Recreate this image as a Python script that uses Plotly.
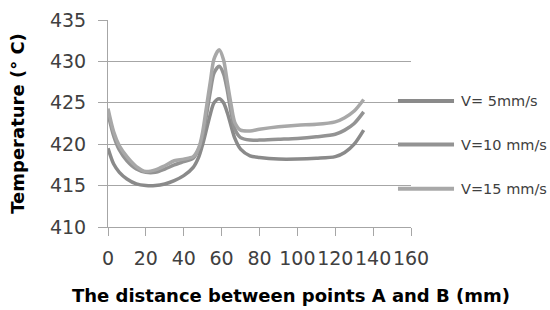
import plotly.graph_objects as go

# Distance between points A and B (mm)
distance = [0, 3, 6, 10, 15, 20, 25, 30, 35, 40, 45, 48, 50, 52, 54, 56, 58.7,
            61, 63, 65, 67, 70, 75, 80, 90, 100, 110, 120, 125, 130, 135]

temp_v5 = [419.5, 417.6, 416.6, 415.8, 415.2, 415.0, 415.0, 415.2, 415.6, 416.2,
           417.2, 418.5, 420.0, 421.8, 423.6, 425.0, 425.5, 425.0, 423.8, 422.2,
           420.7, 419.4, 418.6, 418.4, 418.2, 418.2, 418.3, 418.5, 419.0, 420.0, 421.7]

temp_v10 = [423.7, 421.0, 419.3, 418.0, 417.0, 416.6, 416.6, 417.0, 417.5, 417.9,
            418.3, 419.5, 421.0, 423.5, 426.3, 428.6, 429.4, 428.5, 426.5, 423.8,
            421.8, 420.8, 420.5, 420.5, 420.6, 420.7, 420.9, 421.2, 421.7, 422.5, 423.9]

temp_v15 = [424.3, 421.5, 419.8, 418.5, 417.3, 416.7, 416.9, 417.4, 418.0, 418.2,
            418.5, 419.6, 421.5, 424.5, 427.5, 430.3, 431.4, 430.2, 427.5, 424.8,
            422.6, 421.7, 421.6, 421.8, 422.1, 422.3, 422.4, 422.7, 423.2, 424.0, 425.4]

series_names = ["V= 5mm/s", "V=10 mm/s", "V=15 mm/s"]
series_colors = ["#8a8a8a", "#939393", "#a8a8a8"]
series_values = [temp_v5, temp_v10, temp_v15]

x_ticks = [0, 20, 40, 60, 80, 100, 120, 140, 160]
y_ticks = [410, 415, 420, 425, 430, 435]

x_title = "The distance between points A and B (mm)"
y_title = "Temperature (° C)"

FONT = "DejaVu Sans"
GRID = "#a6a6a6"

fig = go.Figure()
for name, color, vals in zip(series_names, series_colors, series_values):
    fig.add_trace(go.Scatter(
        x=distance, y=vals, mode="lines", name=name,
        line=dict(color=color, width=3.5, shape="spline", smoothing=0.8),
        showlegend=False,
    ))

# Manual legend (long line samples like the original)
legend_y = [0.609, 0.398, 0.185]
for name, color, ly in zip(series_names, series_colors, legend_y):
    fig.add_shape(type="line", xref="paper", yref="paper",
                  x0=0.957, x1=1.142, y0=ly, y1=ly,
                  line=dict(color=color, width=4))
    fig.add_annotation(xref="paper", yref="paper", x=1.158, y=ly,
                       text=name, showarrow=False, xanchor="left", yanchor="middle",
                       font=dict(family=FONT, size=14.5, color="#404040"))

# X-axis title (offset to the right as in the original)
fig.add_annotation(xref="paper", yref="paper", x=0.604, y=-0.329,
                   text="<b>" + x_title + "</b>", showarrow=False,
                   xanchor="center", yanchor="middle",
                   font=dict(family=FONT, size=18, color="#000000"))

fig.update_layout(
    width=550, height=310,
    margin=dict(l=108, r=139, t=20, b=83),
    paper_bgcolor="white", plot_bgcolor="white",
    font=dict(family=FONT, color="#404040"),
    xaxis=dict(
        range=[0, 160], tickvals=x_ticks, tickangle=0, automargin=False,
        showgrid=False, zeroline=False,
        showline=True, linecolor=GRID, linewidth=1,
        ticks="outside", ticklen=8, tickcolor=GRID,
        tickfont=dict(family=FONT, size=19, color="#404040"),
        ticklabelstandoff=6,
    ),
    yaxis=dict(
        range=[410, 435], tickvals=y_ticks, automargin=False,
        showgrid=True, gridcolor=GRID, gridwidth=1, zeroline=False,
        showline=True, linecolor=GRID, linewidth=1,
        ticks="outside", ticklen=9, tickcolor=GRID,
        tickfont=dict(family=FONT, size=19, color="#404040"),
        ticklabelstandoff=8,
        title=dict(text="<b>" + y_title + "</b>",
                   font=dict(family=FONT, size=18, color="#000000"),
                   standoff=20),
    ),
)

fig.write_html("out.html", config={"displayModeBar": False},
               post_script="document.body.style.margin='0';document.body.style.overflow='hidden';")
